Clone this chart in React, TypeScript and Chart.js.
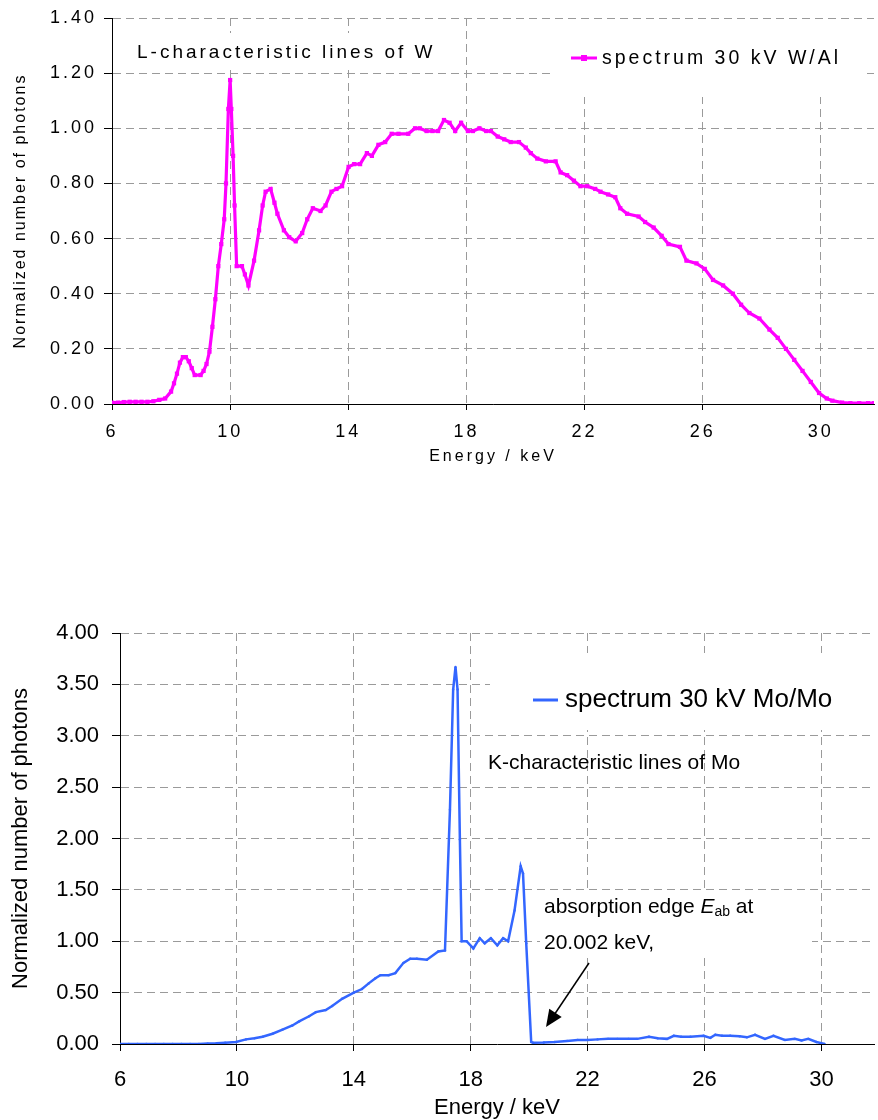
import React, { useEffect, useRef } from "react";
import { Chart, registerables } from "chart.js";

Chart.register(...registerables);

const FONT = "'Liberation Sans', Arial, Helvetica, sans-serif";
const GRID = "#9a9a9a";
const DASH = [8, 5];

// ---- Data: W/Al spectrum (top) ----
const wEnergy = [
  6.0, 6.2, 6.4, 6.6, 6.8, 7.0, 7.2, 7.4, 7.6, 7.8, 8.0, 8.1, 8.2, 8.3, 8.4, 8.5, 8.6, 8.7, 8.8, 9.0,
  9.1, 9.2, 9.3, 9.4, 9.5, 9.6, 9.7, 9.8, 9.86, 9.94, 10.0, 10.04, 10.1, 10.15, 10.22, 10.4, 10.5, 10.62,
  10.81, 10.98, 11.1, 11.2, 11.37, 11.5, 11.6, 11.82, 12.0, 12.22, 12.44, 12.61, 12.8, 13.06, 13.23,
  13.43, 13.6, 13.79, 14.01, 14.2, 14.4, 14.63, 14.8, 15.02, 15.25, 15.47, 15.7, 16.03, 16.26, 16.42,
  16.65, 16.85, 17.04, 17.24, 17.43, 17.62, 17.82, 18.05, 18.22, 18.44, 18.67, 18.83, 19.06, 19.28,
  19.5, 19.78, 20.01, 20.18, 20.4, 20.69, 21.02, 21.19, 21.41, 21.64, 21.86, 22.09, 22.36, 22.54, 22.8,
  23.04, 23.21, 23.44, 23.83, 24.05, 24.34, 24.61, 24.84, 25.23, 25.45, 25.79, 26.07, 26.35, 26.69,
  27.02, 27.3, 27.58, 27.92, 28.26, 28.54, 28.82, 29.1, 29.38, 29.66, 29.94, 30.2, 30.39, 30.72, 31.0,
  31.3, 31.6, 31.8,
];
const wValues = [
  0.005, 0.005, 0.007, 0.008, 0.008, 0.008, 0.008, 0.01, 0.015, 0.02, 0.045, 0.075, 0.11, 0.15, 0.17,
  0.17, 0.155, 0.13, 0.105, 0.105, 0.12, 0.145, 0.19, 0.28, 0.38, 0.5, 0.58, 0.67, 0.8, 1.07, 1.175,
  1.07, 0.9, 0.72, 0.5, 0.5, 0.47, 0.43, 0.52, 0.63, 0.72, 0.77, 0.78, 0.73, 0.69, 0.63, 0.605, 0.59,
  0.62, 0.67, 0.71, 0.7, 0.72, 0.77, 0.78, 0.79, 0.86, 0.87, 0.87, 0.91, 0.9, 0.94, 0.95, 0.98, 0.98,
  0.98, 1.0, 1.0, 0.99, 0.99, 0.99, 1.03, 1.02, 0.99, 1.02, 0.99, 0.99, 1.0, 0.99, 0.99, 0.97, 0.96,
  0.95, 0.95, 0.93, 0.91, 0.89, 0.88, 0.88, 0.84, 0.83, 0.81, 0.79, 0.79, 0.78, 0.77, 0.76, 0.75, 0.71,
  0.69, 0.68, 0.66, 0.64, 0.61, 0.58, 0.57, 0.52, 0.51, 0.49, 0.45, 0.43, 0.4, 0.36, 0.33, 0.31, 0.27,
  0.24, 0.2, 0.16, 0.12, 0.08, 0.04, 0.02, 0.012, 0.005, 0.003, 0.003, 0.003, 0.003,
];

// ---- Data: Mo/Mo spectrum (bottom) ----
const moEnergy = [
  6.0, 6.3, 6.6, 6.9, 7.2, 7.5, 7.8, 8.1, 8.4, 8.7, 9.0, 9.3, 9.6, 9.97, 10.31, 10.6, 10.88, 11.22,
  11.56, 11.9, 12.13, 12.47, 12.7, 13.04, 13.26, 13.6, 14.0, 14.28, 14.51, 14.74, 14.91, 15.19, 15.42,
  15.7, 15.93, 16.16, 16.5, 16.89, 17.12, 17.29, 17.4, 17.48, 17.55, 17.63, 17.69, 17.86, 18.09, 18.31,
  18.48, 18.69, 18.91, 19.11, 19.28, 19.5, 19.71, 19.79, 19.9, 20.07, 20.13, 20.5, 20.87, 21.3, 21.66,
  22.0, 22.34, 22.7, 23.02, 23.4, 23.7, 24.1, 24.4, 24.72, 24.95, 25.2, 25.52, 25.97, 26.2, 26.37,
  26.6, 26.88, 27.2, 27.45, 27.73, 28.07, 28.36, 28.75, 29.09, 29.32, 29.55, 29.83, 30.11,
];
const moValues = [
  0, 0, 0, 0, 0, 0, 0, 0, 0, 0, 0.004, 0.007, 0.012, 0.02, 0.045, 0.055, 0.07, 0.1, 0.14, 0.18, 0.22,
  0.27, 0.31, 0.33, 0.37, 0.44, 0.5, 0.535, 0.59, 0.64, 0.67, 0.67, 0.69, 0.79, 0.83, 0.83, 0.82, 0.9,
  0.91, 2.28, 3.45, 3.67, 3.45, 1.99, 1.0, 1.0, 0.93, 1.03, 0.98, 1.03, 0.96, 1.03, 1.0, 1.3, 1.73,
  1.66, 0.98, 0.02, 0.013, 0.015, 0.02, 0.03, 0.04, 0.04, 0.045, 0.05, 0.05, 0.05, 0.05, 0.07, 0.055,
  0.05, 0.08, 0.07, 0.07, 0.08, 0.06, 0.09, 0.08, 0.08, 0.075, 0.065, 0.09, 0.05, 0.08, 0.04, 0.05,
  0.035, 0.05, 0.02, 0.0,
];

// ---- Axes ----
const xTickValues = [6, 10, 14, 18, 22, 26, 30];
const xMin = 6;
const xMax = 31.8;
const wYTicks = [0, 0.2, 0.4, 0.6, 0.8, 1.0, 1.2, 1.4];
const moYTicks = [0, 0.5, 1.0, 1.5, 2.0, 2.5, 3.0, 3.5, 4.0];

// ---- Texts ----
const xTitle = "Energy / keV";
const yTitle = "Normalized number of photons";
const wLegend = "spectrum 30 kV W/Al";
const moLegend = "spectrum 30 kV Mo/Mo";
const wNote = "L-characteristic lines of W";
const moNote = "K-characteristic lines of Mo";
const edgeNote1a = "absorption edge ";
const edgeNote1E = "E";
const edgeNote1sub = "ab";
const edgeNote1b = " at";
const edgeNote2 = "20.002 keV,";

const W_COLOR = "#FF00FF";
const MO_COLOR = "#3366FF";

function pts(xs: number[], ys: number[]) {
  return xs.map((x, i) => ({ x, y: ys[i] }));
}

function setTicks(values: number[]) {
  return (scale: any) => {
    scale.ticks = values.map((v) => ({ value: v }));
  };
}

function txt(
  ctx: CanvasRenderingContext2D,
  text: string,
  x: number,
  y: number,
  font: string,
  spacing: number,
  align: CanvasTextAlign = "left",
  color = "#000"
) {
  ctx.save();
  ctx.font = font;
  (ctx as any).letterSpacing = spacing + "px";
  ctx.fillStyle = color;
  ctx.textAlign = align;
  ctx.textBaseline = "middle";
  ctx.fillText(text, x, y);
  ctx.restore();
}

function scalesFor(
  yTicks: number[],
  yMax: number,
  yWidth: number,
  xHeight: number,
  tickSize: number,
  xTickLen: number,
  yTickLen: number,
  xPad: number,
  yPad: number
) {
  return {
    x: {
      type: "linear",
      min: xMin,
      max: xMax,
      afterBuildTicks: setTicks(xTickValues),
      afterFit: (s: any) => {
        s.height = xHeight;
      },
      grid: { color: GRID, lineWidth: 1, tickColor: "#000", tickLength: xTickLen, tickBorderDash: [] },
      border: { display: true, color: "#000", width: 1, dash: DASH },
      ticks: {
        color: "#000",
        font: { family: FONT, size: tickSize },
        padding: xPad,
        maxRotation: 0,
        autoSkip: false,
        callback: (v: any) => String(v),
      },
    },
    y: {
      type: "linear",
      min: 0,
      max: yMax,
      afterBuildTicks: setTicks(yTicks),
      afterFit: (s: any) => {
        s.width = yWidth;
      },
      grid: { color: GRID, lineWidth: 1, tickColor: "#000", tickLength: yTickLen, tickBorderDash: [] },
      border: { display: true, color: "#000", width: 1, dash: DASH },
      ticks: {
        color: "#000",
        font: { family: FONT, size: tickSize },
        padding: yPad,
        autoSkip: false,
        callback: (v: any) => Number(v).toFixed(2),
      },
    },
  };
}

function topChart(canvas: HTMLCanvasElement) {
  const SP = "3px";
  const decor = {
    id: "topDecor",
    beforeUpdate(chart: any) {
      chart.ctx.letterSpacing = SP;
    },
    beforeDraw(chart: any) {
      chart.ctx.letterSpacing = SP;
    },
    beforeDatasetsDraw(chart: any) {
      const ctx = chart.ctx as CanvasRenderingContext2D;
      ctx.save();
      ctx.fillStyle = "#fff";
      ctx.fillRect(550, 19, 317, 78);
      ctx.fillRect(130, 33, 308, 37);
      ctx.restore();
      txt(ctx, wNote, 137, 53, `19px ${FONT}`, 3);
      ctx.save();
      ctx.strokeStyle = W_COLOR;
      ctx.lineWidth = 3;
      ctx.beginPath();
      ctx.moveTo(571, 58);
      ctx.lineTo(597, 58);
      ctx.stroke();
      ctx.fillStyle = W_COLOR;
      ctx.fillRect(581, 55, 6, 6);
      ctx.restore();
      txt(ctx, wLegend, 602, 59, `19.5px ${FONT}`, 3);
    },
    afterDraw(chart: any) {
      const ctx = chart.ctx as CanvasRenderingContext2D;
      const ca = chart.chartArea;
      txt(ctx, xTitle, (ca.left + ca.right) / 2, 457, `16px ${FONT}`, 3, "center");
      ctx.save();
      ctx.translate(21, (ca.top + ca.bottom) / 2);
      ctx.rotate(-Math.PI / 2);
      txt(ctx, yTitle, 0, 0, `16px ${FONT}`, 2, "center");
      ctx.restore();
    },
  };
  return new Chart(canvas, {
    type: "line",
    data: {
      datasets: [
        {
          label: wLegend,
          data: pts(wEnergy, wValues),
          borderColor: W_COLOR,
          backgroundColor: W_COLOR,
          borderWidth: 3.2,
          pointStyle: "rect",
          pointRadius: 3,
          pointBorderWidth: 0,
          pointBackgroundColor: W_COLOR,
          tension: 0,
          fill: false,
        },
      ],
    },
    options: {
      animation: false,
      responsive: false,
      maintainAspectRatio: false,
      events: [],
      layout: { padding: { top: 18, left: 0, right: 0, bottom: 0 } },
      plugins: { legend: { display: false }, tooltip: { enabled: false } },
      scales: scalesFor(wYTicks, 1.4, 112, 66, 18, 6, 8, 11, 7) as any,
    },
    plugins: [decor],
  } as any);
}

function bottomChart(canvas: HTMLCanvasElement) {
  const decor = {
    id: "bottomDecor",
    beforeDatasetsDraw(chart: any) {
      const ctx = chart.ctx as CanvasRenderingContext2D;
      ctx.save();
      ctx.fillStyle = "#fff";
      ctx.fillRect(490, 53, 380, 77);
      ctx.fillRect(540, 293, 272, 63);
      ctx.restore();
      // legend
      ctx.save();
      ctx.strokeStyle = MO_COLOR;
      ctx.lineWidth = 3;
      ctx.beginPath();
      ctx.moveTo(533, 100);
      ctx.lineTo(558, 100);
      ctx.stroke();
      ctx.restore();
      txt(ctx, moLegend, 565, 100, `26px ${FONT}`, 0);
      // notes
      txt(ctx, moNote, 488, 163, `21px ${FONT}`, 0);
      const f = `21px ${FONT}`;
      ctx.save();
      ctx.font = f;
      let x = 544;
      const y1 = 307;
      txt(ctx, edgeNote1a, x, y1, f, 0);
      x += ctx.measureText(edgeNote1a).width;
      const fi = `italic 21px ${FONT}`;
      txt(ctx, edgeNote1E, x, y1, fi, 0);
      ctx.font = fi;
      x += ctx.measureText(edgeNote1E).width;
      const fs = `14px ${FONT}`;
      txt(ctx, edgeNote1sub, x, y1 + 5, fs, 0);
      ctx.font = fs;
      x += ctx.measureText(edgeNote1sub).width;
      txt(ctx, edgeNote1b, x, y1, f, 0);
      ctx.restore();
      txt(ctx, edgeNote2, 544, 343, f, 0);
    },
    afterDatasetsDraw(chart: any) {
      const ctx = chart.ctx as CanvasRenderingContext2D;
      // arrow
      const x1 = 589, y1 = 363, x2 = 546, y2 = 427;
      const ang = Math.atan2(y2 - y1, x2 - x1);
      const L = 17, Wd = 7.5;
      ctx.save();
      ctx.strokeStyle = "#000";
      ctx.fillStyle = "#000";
      ctx.lineWidth = 1.5;
      ctx.beginPath();
      ctx.moveTo(x1, y1);
      ctx.lineTo(x2 - Math.cos(ang) * L * 0.8, y2 - Math.sin(ang) * L * 0.8);
      ctx.stroke();
      ctx.beginPath();
      ctx.moveTo(x2, y2);
      const bx = x2 - Math.cos(ang) * L;
      const by = y2 - Math.sin(ang) * L;
      ctx.lineTo(bx + Math.sin(ang) * Wd, by - Math.cos(ang) * Wd);
      ctx.lineTo(bx - Math.sin(ang) * Wd, by + Math.cos(ang) * Wd);
      ctx.closePath();
      ctx.fill();
      ctx.restore();
    },
    afterDraw(chart: any) {
      const ctx = chart.ctx as CanvasRenderingContext2D;
      const ca = chart.chartArea;
      txt(ctx, xTitle, (ca.left + ca.right) / 2, 508, `22px ${FONT}`, 0, "center");
      ctx.save();
      ctx.translate(21, (ca.top + ca.bottom) / 2);
      ctx.rotate(-Math.PI / 2);
      txt(ctx, yTitle, 0, 0, `22px ${FONT}`, 0, "center");
      ctx.restore();
    },
  };
  return new Chart(canvas, {
    type: "line",
    data: {
      datasets: [
        {
          label: moLegend,
          data: pts(moEnergy, moValues),
          borderColor: MO_COLOR,
          backgroundColor: MO_COLOR,
          borderWidth: 2.5,
          pointStyle: "circle",
          pointRadius: 1.2,
          pointBorderWidth: 0,
          pointBackgroundColor: MO_COLOR,
          tension: 0,
          fill: false,
        },
      ],
    },
    options: {
      animation: false,
      responsive: false,
      maintainAspectRatio: false,
      events: [],
      layout: { padding: { top: 33, left: 0, right: 0, bottom: 0 } },
      plugins: { legend: { display: false }, tooltip: { enabled: false } },
      scales: scalesFor(moYTicks, 4, 120, 76, 22, 7, 8, 16, 13) as any,
    },
    plugins: [decor],
  } as any);
}

export default function App() {
  const topRef = useRef<HTMLCanvasElement | null>(null);
  const botRef = useRef<HTMLCanvasElement | null>(null);

  useEffect(() => {
    const a = topRef.current ? topChart(topRef.current) : null;
    const b = botRef.current ? bottomChart(botRef.current) : null;
    return () => {
      a && a.destroy();
      b && b.destroy();
    };
  }, []);

  return (
    <div
      style={{
        position: "absolute",
        left: 0,
        top: 0,
        width: 878,
        height: 1120,
        background: "#fff",
        overflow: "hidden",
      }}
    >
      <canvas
        ref={topRef}
        width={878}
        height={470}
        style={{ position: "absolute", left: 0, top: 0, width: 878, height: 470 }}
      />
      <canvas
        ref={botRef}
        width={878}
        height={520}
        style={{ position: "absolute", left: 0, top: 600, width: 878, height: 520 }}
      />
    </div>
  );
}
